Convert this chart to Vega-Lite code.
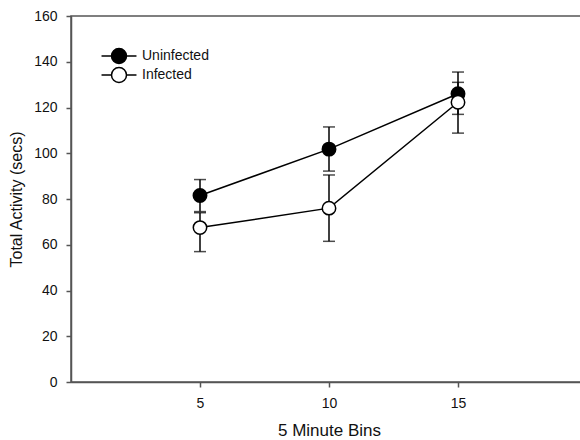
{
  "$schema": "https://vega.github.io/schema/vega-lite/v6.json",
  "autosize": "none",
  "padding": {"left": 71, "top": 16, "right": 0, "bottom": 58},
  "width": 516,
  "height": 366,
  "background": "white",
  "config": {
    "view": {"stroke": "#555", "strokeWidth": 1.5},
    "font": "Liberation Sans",
    "axis": {
      "grid": false,
      "domainColor": "#555",
      "domainWidth": 1.5,
      "tickColor": "#555",
      "tickWidth": 1.5,
      "tickSize": 5,
      "labelFont": "Liberation Sans",
      "labelFontSize": 14,
      "labelColor": "#111",
      "titleFont": "Liberation Sans",
      "titleFontSize": 16,
      "titleFontWeight": "normal",
      "titleColor": "#111"
    }
  },
  "data": {
    "values": [
      {"bin": 5, "group": "Uninfected", "mean": 81.5, "lo": 74.5, "hi": 88.5},
      {"bin": 10, "group": "Uninfected", "mean": 101.8, "lo": 92.2, "hi": 111.5},
      {"bin": 15, "group": "Uninfected", "mean": 126, "lo": 117, "hi": 135.5},
      {"bin": 5, "group": "Infected", "mean": 67.5, "lo": 57, "hi": 74},
      {"bin": 10, "group": "Infected", "mean": 76, "lo": 61.5, "hi": 90.5},
      {"bin": 15, "group": "Infected", "mean": 122.3, "lo": 108.8, "hi": 131}
    ]
  },
  "layer": [
    {
      "mark": {"type": "errorbar", "ticks": {"size": 12, "thickness": 1.5, "color": "black"}, "rule": {"strokeWidth": 1.5, "color": "black"}, "color": "black"},
      "encoding": {
        "x": {"field": "bin", "type": "quantitative", "title": "5 Minute Bins"},
        "y": {"field": "lo", "type": "quantitative", "title": "Total Activity (secs)"},
        "y2": {"field": "hi"},
        "detail": {"field": "group"}
      }
    },
    {
      "mark": {"type": "line", "color": "black", "strokeWidth": 1.5},
      "encoding": {
        "x": {"field": "bin", "type": "quantitative", "title": "5 Minute Bins"},
        "y": {"field": "mean", "type": "quantitative", "title": "Total Activity (secs)"},
        "detail": {"field": "group"}
      }
    },
    {
      "mark": {"type": "point", "shape": "circle", "filled": true, "size": 180, "stroke": "black", "strokeWidth": 1.5, "opacity": 1},
      "encoding": {
        "x": {
          "field": "bin", "type": "quantitative",
          "title": "5 Minute Bins",
          "scale": {"domain": [0, 20], "nice": false},
          "axis": {"values": [5, 10, 15], "labelPadding": 9, "titlePadding": 12, "titleFontSize": 17}
        },
        "y": {
          "field": "mean", "type": "quantitative",
          "title": "Total Activity (secs)",
          "scale": {"domain": [0, 160], "nice": false},
          "axis": {"values": [0, 20, 40, 60, 80, 100, 120, 140, 160], "labelPadding": 9, "titlePadding": 9}
        },
        "fill": {
          "field": "group", "type": "nominal",
          "scale": {"domain": ["Uninfected", "Infected"], "range": ["black", "white"]},
          "legend": {
            "orient": "none",
            "legendX": 39.5,
            "legendY": 31.5,
            "title": null,
            "symbolType": "M-2.33,0L-1,0M1,0L2.33,0M1,0A1,1,0,1,1,-1,0A1,1,0,1,1,1,0Z",
            "symbolSize": 225,
            "symbolStrokeColor": "black",
            "symbolStrokeWidth": 1.5,
            "symbolOpacity": 1,
            "labelFont": "Liberation Sans",
            "labelFontSize": 14,
            "labelColor": "#111",
            "labelOffset": 14.5,
            "rowPadding": -3
          }
        }
      }
    }
  ]
}
